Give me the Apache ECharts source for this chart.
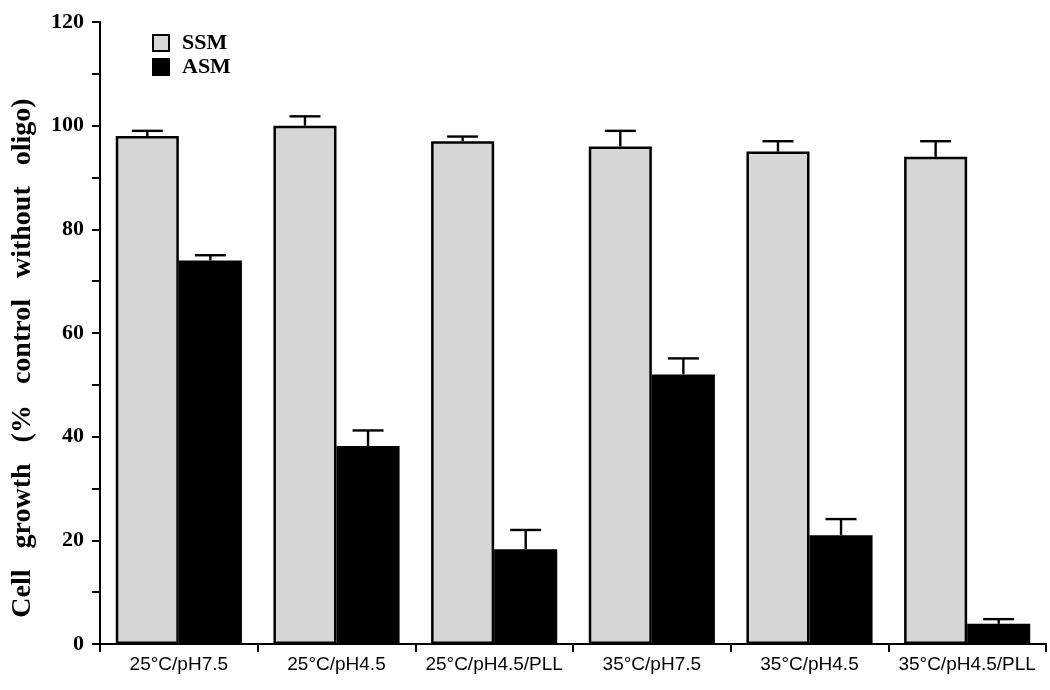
<!DOCTYPE html>
<html>
<head>
<meta charset="utf-8">
<script src="https://cdn.jsdelivr.net/npm/echarts@6/dist/echarts.min.js"></script>
<style>html,body{margin:0;padding:0;background:#fff}#c{width:1050px;height:690px}</style>
</head>
<body>
<div id="c"></div>
<script>
const categories = ['25°C/pH7.5', '25°C/pH4.5', '25°C/pH4.5/PLL', '35°C/pH7.5', '35°C/pH4.5', '35°C/pH4.5/PLL'];
const ssm = [98, 100, 97, 96, 95, 94];
const ssmErrTop = [99, 101.8, 97.9, 99, 97, 97];
const asm = [74, 38.2, 18.3, 52, 21, 3.9];
const asmErrTop = [75, 41.2, 22, 55.1, 24.1, 4.8];
const yTicks = [0, 20, 40, 60, 80, 100, 120];

const chart = echarts.init(document.getElementById('c'), null, {renderer: 'canvas'});

function errSeries(name, tops, base, side) {
  return {
    name: name + ' err',
    type: 'custom',
    silent: true,
    z: 1,
    data: tops.map((t, i) => [i, base[i], t]),
    renderItem: function (params, api) {
      const band = api.size([1, 0])[0];
      const x = api.coord([api.value(0), 0])[0] + side * band * 0.2;
      const y0 = api.coord([api.value(0), api.value(1)])[1];
      const y1 = api.coord([api.value(0), api.value(2)])[1];
      const half = 15.5;
      const st = {stroke: '#000', lineWidth: 2.4};
      return {
        type: 'group',
        children: [
          {type: 'line', shape: {x1: x, y1: y0, x2: x, y2: y1}, style: st},
          {type: 'line', shape: {x1: x - half, y1: y1, x2: x + half, y2: y1}, style: st}
        ]
      };
    }
  };
}

chart.setOption({
  animation: false,
  backgroundColor: '#fff',
  grid: {left: 100, right: 4, top: 22, bottom: 46},
  legend: {
    orient: 'vertical',
    left: 147,
    top: 27,
    itemWidth: 16,
    itemHeight: 16,
    itemGap: 2,
    icon: 'rect',
    data: ['SSM', 'ASM'],
    textStyle: {fontFamily: 'Liberation Serif', fontWeight: 'bold', fontSize: 22, color: '#000', lineHeight: 16, padding: [0, 0, 0, 8]}
  },
  xAxis: {
    type: 'category',
    data: categories,
    axisLine: {lineStyle: {color: '#000', width: 2}},
    axisTick: {show: true, length: 8, lineStyle: {color: '#000', width: 2}},
    axisLabel: {color: '#000', fontFamily: 'Liberation Sans', fontSize: 19, margin: 11, interval: 0},
    splitLine: {show: false}
  },
  yAxis: {
    type: 'value',
    min: 0,
    max: 120,
    interval: 20,
    name: 'Cell   growth   (%   control   without   oligo)',
    nameLocation: 'middle',
    nameGap: 63,
    nameTextStyle: {fontFamily: 'Liberation Serif', fontWeight: 'bold', fontSize: 28, color: '#000', padding: [0, 50, 0, 0]},
    axisLine: {show: true, lineStyle: {color: '#000', width: 2}},
    axisTick: {show: true, length: 8, lineStyle: {color: '#000', width: 2}},
    minorTick: {show: true, splitNumber: 2, length: 8, lineStyle: {color: '#000', width: 2}},
    axisLabel: {color: '#000', fontFamily: 'Liberation Serif', fontWeight: 'bold', fontSize: 22, margin: 16,
      formatter: v => yTicks.includes(v) ? String(v) : ''},
    splitLine: {show: false}
  },
  series: [
    {
      name: 'SSM', type: 'bar', data: ssm, barWidth: '40%', barGap: '0%', z: 2,
      itemStyle: {color: '#d6d6d6', borderColor: '#000', borderWidth: 2.5}
    },
    {
      name: 'ASM', type: 'bar', data: asm, barWidth: '40%', barGap: '0%', z: 2,
      itemStyle: {color: '#000', borderColor: '#000', borderWidth: 2.5}
    },
    errSeries('SSM', ssmErrTop, ssm, -1),
    errSeries('ASM', asmErrTop, asm, 1)
  ]
});
</script>
</body>
</html>
